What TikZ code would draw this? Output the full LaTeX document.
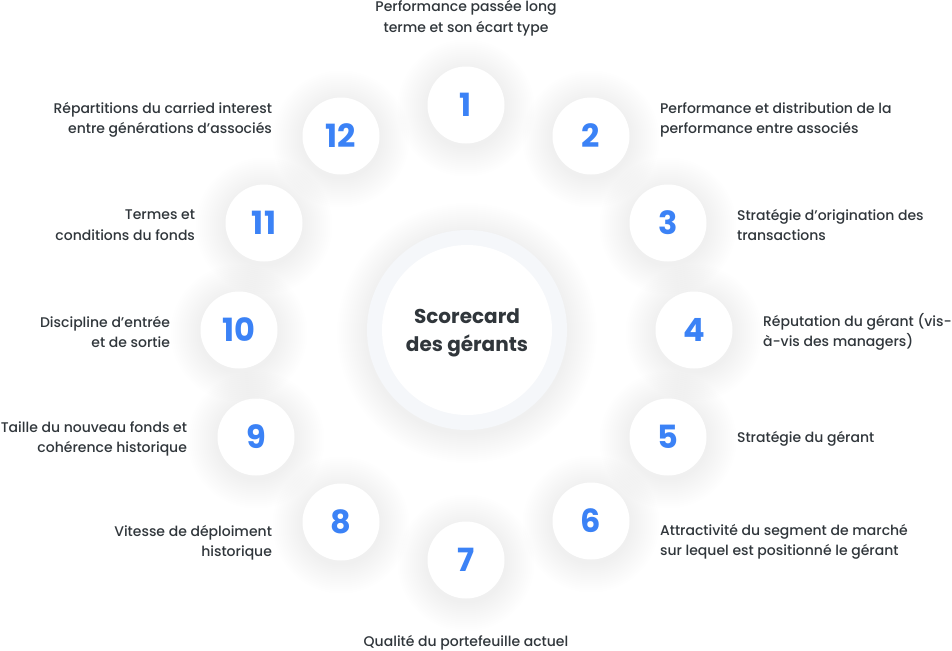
\documentclass[tikz,border=0pt]{standalone}
\usepackage{fontspec}
\setmainfont{Poppins}[UprightFont={* Medium}, BoldFont={* Bold}]
\usetikzlibrary{positioning}
\definecolor{cblue}{HTML}{3B82F6}
\definecolor{ctext}{HTML}{30363B}
\definecolor{cring}{HTML}{F5F7FA}
\tikzset{
  every picture/.style={x=0.75pt, y=-0.75pt},
  bubble/.style={circle, fill=white, minimum size=57.75pt, inner sep=0pt, text=cblue, font=\bfseries\fontsize{24}{24}\selectfont},
  lbl/.style={text=ctext, inner sep=0pt, font=\fontsize{10.5}{15.4}\selectfont},
  lbll/.style={lbl, align=right},
  lblr/.style={lbl, align=left},
  core/.style={circle, fill=white, minimum size=127.5pt, inner sep=0pt, align=center, text=ctext, font=\bfseries\fontsize{15}{21}\selectfont},
}
\newcommand{\halo}[3]{ % x, y, radius (px)
  \foreach \k in {1,...,15}
    \fill[black, opacity=0.005] (#1,#2+3) circle[radius={(#3+2*\k)*0.75pt}];
}

\begin{document}
\begin{tikzpicture}
  \useasboundingbox (0,0) rectangle (952,650);
  % centre
  \halo{467}{330}{100}
  \fill[cring] (467,330) circle[radius=75pt];
  \fill[white] (467,330) circle[radius=63.75pt];
  \node[core, fill=none] (sc) at (467,333) {Scorecard\\des gérants};
  % bubbles
  \halo{466}{105}{38.5}   \node[bubble] (n1) at (466,105) {1};
  \halo{591}{136}{38.5}   \node[bubble] (n2) at (591,136) {2};
  \halo{668}{223}{38.5}   \node[bubble] (n3) at (668,223) {3};
  \halo{694}{330}{38.5}   \node[bubble] (n4) at (694,330) {4};
  \halo{668}{437}{38.5}   \node[bubble] (n5) at (668,437) {5};
  \halo{591}{521}{38.5}   \node[bubble] (n6) at (591,521) {6};
  \halo{466}{560}{38.5}   \node[bubble] (n7) at (466,560) {7};
  \halo{341}{522}{38.5}   \node[bubble] (n8) at (341,522) {8};
  \halo{256}{437}{38.5}   \node[bubble] (n9) at (256,437) {9};
  \halo{239}{330}{38.5}   \node[bubble] (n10) at (239,330) {10};
  \halo{264}{223}{38.5}   \node[bubble] (n11) at (264,223) {11};
  \halo{341}{136}{38.5}   \node[bubble] (n12) at (341,136) {12};
  % labels
  \node[lbl, align=center] (t1) at (466,18) {Performance passée long\\terme et son écart type};
  \node[lblr, right=22.5pt of n2, yshift=12pt] (t2) {Performance et distribution de la\\performance entre associés};
  \node[lblr, right=22.5pt of n3, yshift=-1.5pt] (t3) {Stratégie d’origination des\\transactions};
  \node[lblr, right=22.5pt of n4, yshift=-1.5pt] (t4) {Réputation du gérant (vis-\\à-vis des managers)};
  \node[lblr, right=22.5pt of n5, yshift=-1.5pt] (t5) {Stratégie du gérant};
  \node[lblr, right=22.5pt of n6, yshift=-15.5pt] (t6) {Attractivité du segment de marché\\sur lequel est positionné le gérant};
  \node[lbl, align=center] (t7) at (466,643) {Qualité du portefeuille actuel};
  \node[lbll, left=22.5pt of n8, yshift=-15.5pt] (t8) {Vitesse de déploiment\\historique};
  \node[lbll, left=22.5pt of n9, yshift=-1.5pt] (t9) {Taille du nouveau fonds et\\cohérence historique};
  \node[lbll, left=22.5pt of n10, yshift=-1.5pt] (t10) {Discipline d’entrée\\et de sortie};
  \node[lbll, left=22.5pt of n11, yshift=-1.5pt] (t11) {Termes et\\conditions du fonds};
  \node[lbll, left=22.5pt of n12, yshift=12pt] (t12) {Répartitions du carried interest\\entre générations d’associés};
\end{tikzpicture}
\end{document}
